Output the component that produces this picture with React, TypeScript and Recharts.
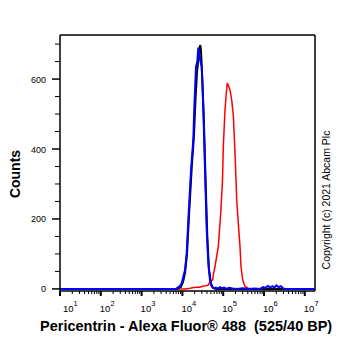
import { LineChart, Line, XAxis, YAxis, ReferenceLine } from 'recharts';

// unstained control (black)
const controlIntensity = [10, 7380, 9240, 10350, 11590, 12970, 14520, 16900, 19230, 20940, 22800, 24820, 26240, 27480, 28580, 30760, 33810, 37240, 40740, 44860, 50230, 56230, 66680, 17780000];
const controlCounts = [0, 0, 6, 20, 45, 100, 210, 345, 440, 540, 620, 660, 690, 697, 680, 600, 470, 300, 150, 55, 15, 3, 0, 0];

// pericentrin stained (red)
const stainedIntensity = [10, 12000, 15350, 19000, 22420, 26980, 32510, 38000, 43150, 47450, 55300, 57200, 62950, 75860, 86900, 96100, 100500, 110600, 119100, 125900, 134900, 146800, 161500, 177000, 194600, 206000, 214300, 234500, 258200, 273000, 300600, 342000, 412100, 480000, 17780000];
const stainedCounts = [0, 0, 2, 4, 5, 5, 8, 9, 11, 21, 26, 40, 64, 121, 216, 311, 406, 511, 560, 589, 580, 569, 540, 497, 389, 311, 254, 188, 121, 64, 26, 7, 2, 0, 0];

// isotype control (blue)
const isotypeIntensity = [10, 3000, 6966, 8730, 9617, 10520, 11590, 12740, 13960, 16260, 18500, 19590, 21540, 23170, 24530, 26240, 27780, 29720, 32510, 35800, 39430, 43150, 47450, 52240, 59560, 66000, 74000, 83000, 93000, 105000, 120000, 140000, 170000, 220000, 300000, 420000, 600000, 800000, 950000, 1100000, 1250000, 1400000, 1600000, 1800000, 2000000, 2300000, 2600000, 2900000, 3300000, 17780000];
const isotypeCounts = [0, 0, 0, 8, 16, 35, 54, 102, 197, 340, 426, 521, 635, 650, 690, 665, 650, 635, 521, 340, 169, 73, 26, 7, 2, 4, 1, 5, 2, 4, 0, 3, 1, 0, 2, 0, 1, 0, 5, 3, 9, 4, 8, 3, 10, 5, 8, 2, 0, 0];

const decades = [10, 100, 1000, 10000, 100000, 1000000, 10000000];
const decadeExponents = ['1', '2', '3', '4', '5', '6', '7'];
const minorSteps = [2, 3, 4, 5, 6, 7, 8, 9];
const countTicks = [0, 50, 100, 150, 200, 250, 300, 350, 400, 450, 500, 550, 600, 650, 700];
const countLabels = [0, 200, 400, 600];

const X_MAX = 17780000;
const Y_DOMAIN: [number, number] = [-6, 726];
const FONT = 'Liberation Sans, Arial, sans-serif';

const toPoints = (xs: number[], ys: number[]) => xs.map((x, i) => ({ x, y: ys[i] }));

const xTicks = decades.flatMap((d, i) => (i === decades.length - 1 ? [d] : [d, ...minorSteps.map((m) => d * m)]));

const XTick = (props: any) => {
  const { x, y, payload } = props;
  const idx = decades.indexOf(payload.value);
  const major = idx >= 0;
  return (
    <g>
      <line x1={x} y1={y} x2={x} y2={y + (major ? 5 : 3)} stroke="#000" strokeWidth={major ? 2 : 1} />
      {major && (
        <text x={x + (idx === 0 ? 3 : -1)} y={y + 21} fontSize={9.5} fontFamily={FONT} fill="#000">
          10
          <tspan dy={-6.5} fontSize={7.5}>{decadeExponents[idx]}</tspan>
        </text>
      )}
    </g>
  );
};

const YTick = (props: any) => {
  const { x, y, payload } = props;
  const major = countLabels.includes(payload.value);
  return (
    <g>
      <line x1={x} y1={y} x2={x - (major ? 8 : 5)} y2={y} stroke="#000" strokeWidth={major ? 1.5 : 1} />
      {major && (
        <text x={x - 14} y={y + 3.5} textAnchor="end" fontSize={9} fontFamily={FONT} fill="#000">
          {payload.value}
        </text>
      )}
    </g>
  );
};

export default function App() {
  return (
    <div style={{ position: 'absolute', left: 0, top: 0, width: 362, height: 351, background: '#fff' }}>
      <LineChart width={362} height={351} margin={{ top: 35, right: 47, bottom: 0, left: 0 }}>
        <XAxis
          dataKey="x"
          type="number"
          scale="log"
          domain={[10, X_MAX]}
          allowDataOverflow
          ticks={xTicks}
          interval={0}
          tick={<XTick />}
          tickLine={false}
          tickSize={0}
          tickMargin={0}
          height={60}
          axisLine={{ stroke: '#000', strokeWidth: 1.5 }}
        />
        <YAxis
          type="number"
          domain={Y_DOMAIN}
          allowDataOverflow
          ticks={countTicks}
          interval={0}
          tick={<YTick />}
          tickLine={false}
          tickSize={0}
          tickMargin={0}
          width={60}
          axisLine={{ stroke: '#000', strokeWidth: 1.5 }}
        />
        <ReferenceLine y={Y_DOMAIN[1]} stroke="#000" strokeWidth={1.5} ifOverflow="visible" />
        <ReferenceLine x={X_MAX} stroke="#000" strokeWidth={1.5} ifOverflow="visible" />
        <Line data={toPoints(stainedIntensity, stainedCounts)} dataKey="y" type="linear" stroke="#ff0000" strokeWidth={1.5} dot={false} isAnimationActive={false} />
        <Line data={toPoints(controlIntensity, controlCounts)} dataKey="y" type="linear" stroke="#000000" strokeWidth={2} dot={false} isAnimationActive={false} />
        <Line data={toPoints(isotypeIntensity, isotypeCounts)} dataKey="y" type="linear" stroke="#0000ff" strokeWidth={2} dot={false} isAnimationActive={false} />
      </LineChart>
      <svg width={362} height={351} style={{ position: 'absolute', left: 0, top: 0, pointerEvents: 'none' }}>
        <text transform="translate(20,174) rotate(-90)" textAnchor="middle" fontSize={14} fontWeight="bold" fontFamily={FONT} fill="#000">
          Counts
        </text>
        <text x={40} y={331} fontSize={14.5} fontWeight="bold" fontFamily={FONT} fill="#000" style={{ whiteSpace: 'pre' }}>
          Pericentrin - Alexa Fluor® 488  (525/40 BP)
        </text>
        <text transform="translate(330,200) rotate(-90)" textAnchor="middle" fontSize={10.5} fontFamily={FONT} fill="#000">
          Copyright (c) 2021 Abcam Plc
        </text>
      </svg>
    </div>
  );
}
